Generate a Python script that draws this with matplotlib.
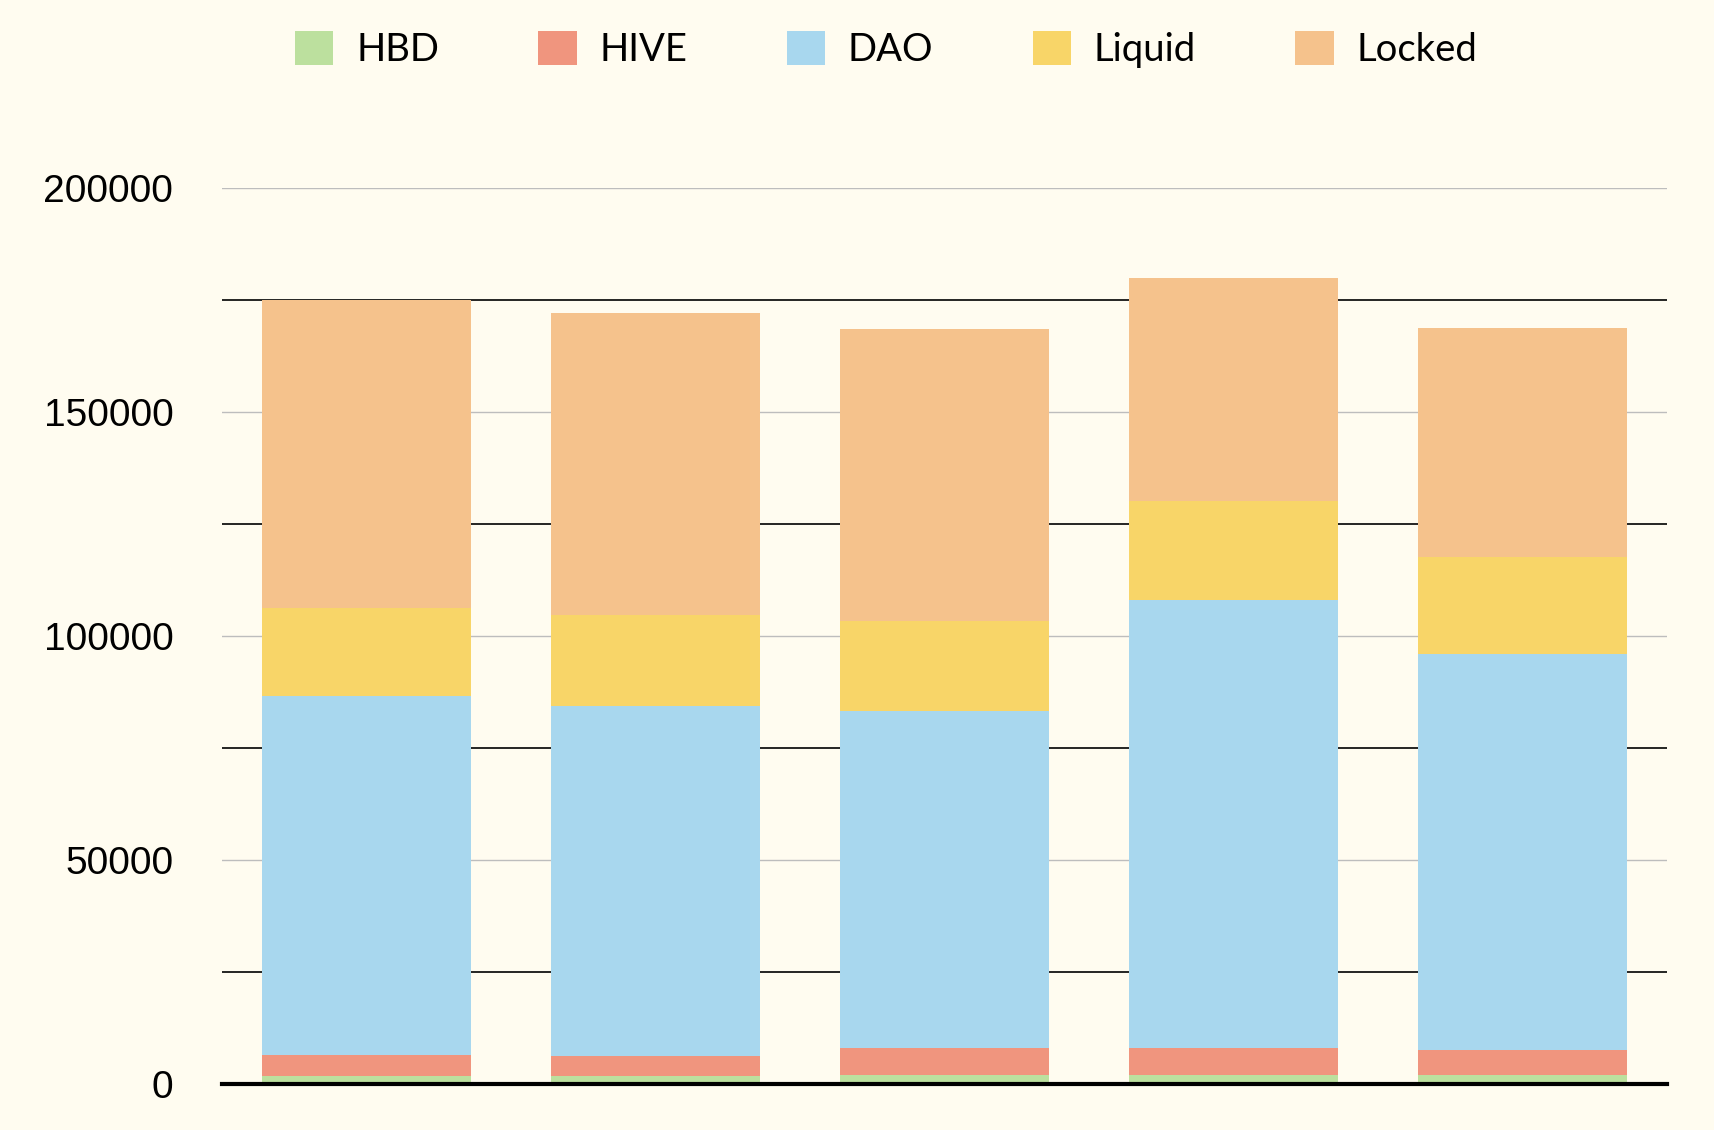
import matplotlib.pyplot as plt
from matplotlib.ticker import MultipleLocator
import numpy as np

# stacked values, one bar per period
series = ['HBD', 'HIVE', 'DAO', 'Liquid', 'Locked']
hbd = [1800, 1800, 2000, 2000, 2000]
hive = [4700, 4400, 6000, 6000, 5600]
dao = [80100, 78200, 75200, 100000, 88300]
liquid = [19700, 20200, 20200, 22200, 21700]
locked = [68800, 67600, 65100, 49800, 51200]
colors = ['#BCE09E', '#F0957E', '#A8D7EE', '#F8D568', '#F5C28C']
bg = '#FFFCF0'

x = np.arange(len(hbd))
fig = plt.figure(figsize=(17.14, 11.3), dpi=100, facecolor=bg)
ax = fig.add_axes([0.1295, 0.0407, 0.8431, 0.7929], facecolor=bg)

bottom = np.zeros(len(x))
for name, vals, c in zip(series, [hbd, hive, dao, liquid, locked], colors):
    ax.bar(x, vals, 0.72, bottom=bottom, color=c, label=name, zorder=3)
    bottom += np.array(vals)

ax.set_xlim(-0.5, 4.5)
ax.set_ylim(0, 200000)
ax.yaxis.set_major_locator(MultipleLocator(50000))
ax.yaxis.set_minor_locator(MultipleLocator(25000))
ax.grid(axis='y', which='major', color='#BDBDBD', lw=1.0, zorder=0)
ax.grid(axis='y', which='minor', color='black', lw=1.2, zorder=0)
ax.set_axisbelow(True)

for s in ['top', 'right', 'left']:
    ax.spines[s].set_visible(False)
ax.spines['bottom'].set_linewidth(3)
ax.spines['bottom'].set_color('black')
ax.spines['bottom'].set_zorder(4)
ax.set_xticks([])
ax.tick_params(axis='y', which='both', length=0, labelsize=28, pad=35)
for t in ax.get_yticklabels():
    t.set_fontfamily('Liberation Sans')

fig.legend(loc='center', bbox_to_anchor=(0.517, 0.956), ncol=5, frameon=False,
           prop={'family': 'Lato', 'size': 27.5}, handlelength=1.0, handleheight=1.0,
           handletextpad=0.6, columnspacing=2.6)

fig.savefig('out.png', facecolor=bg)
